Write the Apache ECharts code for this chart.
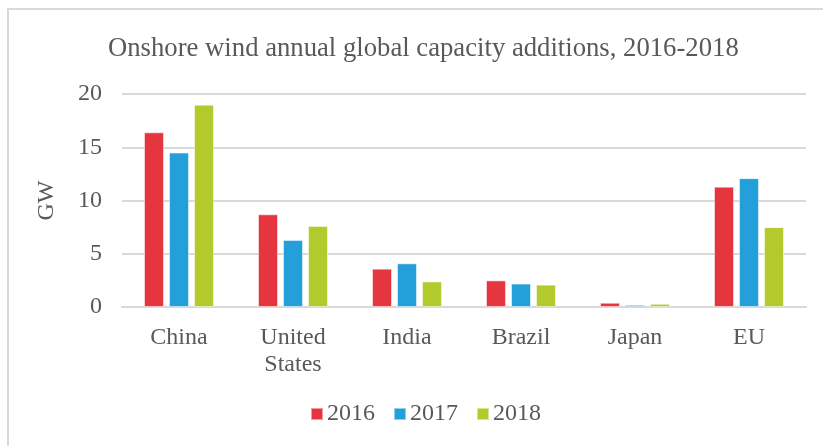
<!DOCTYPE html>
<html>
<head>
<meta charset="utf-8">
<script src="https://cdn.jsdelivr.net/npm/echarts@6/dist/echarts.min.js"></script>
<style>
  html, body { margin: 0; padding: 0; background: #fff; }
  #chart { width: 823px; height: 446px; }
</style>
</head>
<body>
<div id="chart"></div>
<script>
// Onshore wind capacity additions by market (GW)
const categories = ['China', 'United\nStates', 'India', 'Brazil', 'Japan', 'EU'];
const years = ['2016', '2017', '2018'];
const values2016 = [16.4, 8.7, 3.6, 2.5, 0.4, 11.3];
const values2017 = [14.5, 6.3, 4.1, 2.2, 0.2, 12.1];
const values2018 = [19.0, 7.6, 2.4, 2.1, 0.3, 7.5];
const yTicks = [0, 5, 10, 15, 20];

const colors = ['#E5363F', '#23A0DA', '#B2CA2B'];
const font = '"Liberation Serif", "Times New Roman", serif';
const textColor = '#595959';

const seriesData = [values2016, values2017, values2018];

const chart = echarts.init(document.getElementById('chart'), null, { renderer: 'canvas' });
chart.setOption({
  animation: false,
  backgroundColor: '#fff',
  color: colors,
  textStyle: { fontFamily: font, color: textColor },
  graphic: [{
    type: 'rect',
    shape: { x: 8, y: 9, width: 900, height: 500 },
    style: { fill: 'none', stroke: '#d9d9d9', lineWidth: 2 },
    silent: true,
    z: -1
  }],
  title: {
    text: 'Onshore wind annual global capacity additions, 2016-2018',
    left: 103,
    top: 30,
    textStyle: { fontFamily: font, fontSize: 26.7, fontWeight: 'normal', color: textColor }
  },
  legend: {
    data: years,
    bottom: 15,
    left: 305,
    itemWidth: 12,
    itemHeight: 12,
    itemGap: 18,
    icon: 'rect',
    textStyle: { fontFamily: font, fontSize: 24, color: textColor, padding: [0, 0, 0, -1] }
  },
  grid: { left: 122, right: 17, top: 94, bottom: 139, containLabel: false },
  xAxis: {
    type: 'category',
    data: categories,
    axisLine: { lineStyle: { color: '#d9d9d9', width: 2 } },
    axisTick: { show: false },
    axisLabel: { fontFamily: font, fontSize: 24, color: textColor, margin: 17, lineHeight: 27 }
  },
  yAxis: {
    type: 'value',
    min: yTicks[0],
    max: yTicks[yTicks.length - 1],
    interval: 5,
    name: 'GW',
    nameLocation: 'middle',
    nameGap: 63,
    nameRotate: 90,
    nameTextStyle: { fontFamily: font, fontSize: 24, color: textColor },
    axisLine: { show: false },
    axisTick: { show: false },
    axisLabel: { fontFamily: font, fontSize: 24, color: textColor, margin: 20 },
    splitLine: { lineStyle: { color: '#d9d9d9', width: 2 } }
  },
  series: years.map((y, i) => ({
    name: y,
    type: 'bar',
    data: seriesData[i],
    barWidth: 20,
    barGap: '25%',
    itemStyle: { borderColor: 'rgba(255,255,255,0.5)', borderWidth: 1 }
  }))
});
</script>
</body>
</html>
